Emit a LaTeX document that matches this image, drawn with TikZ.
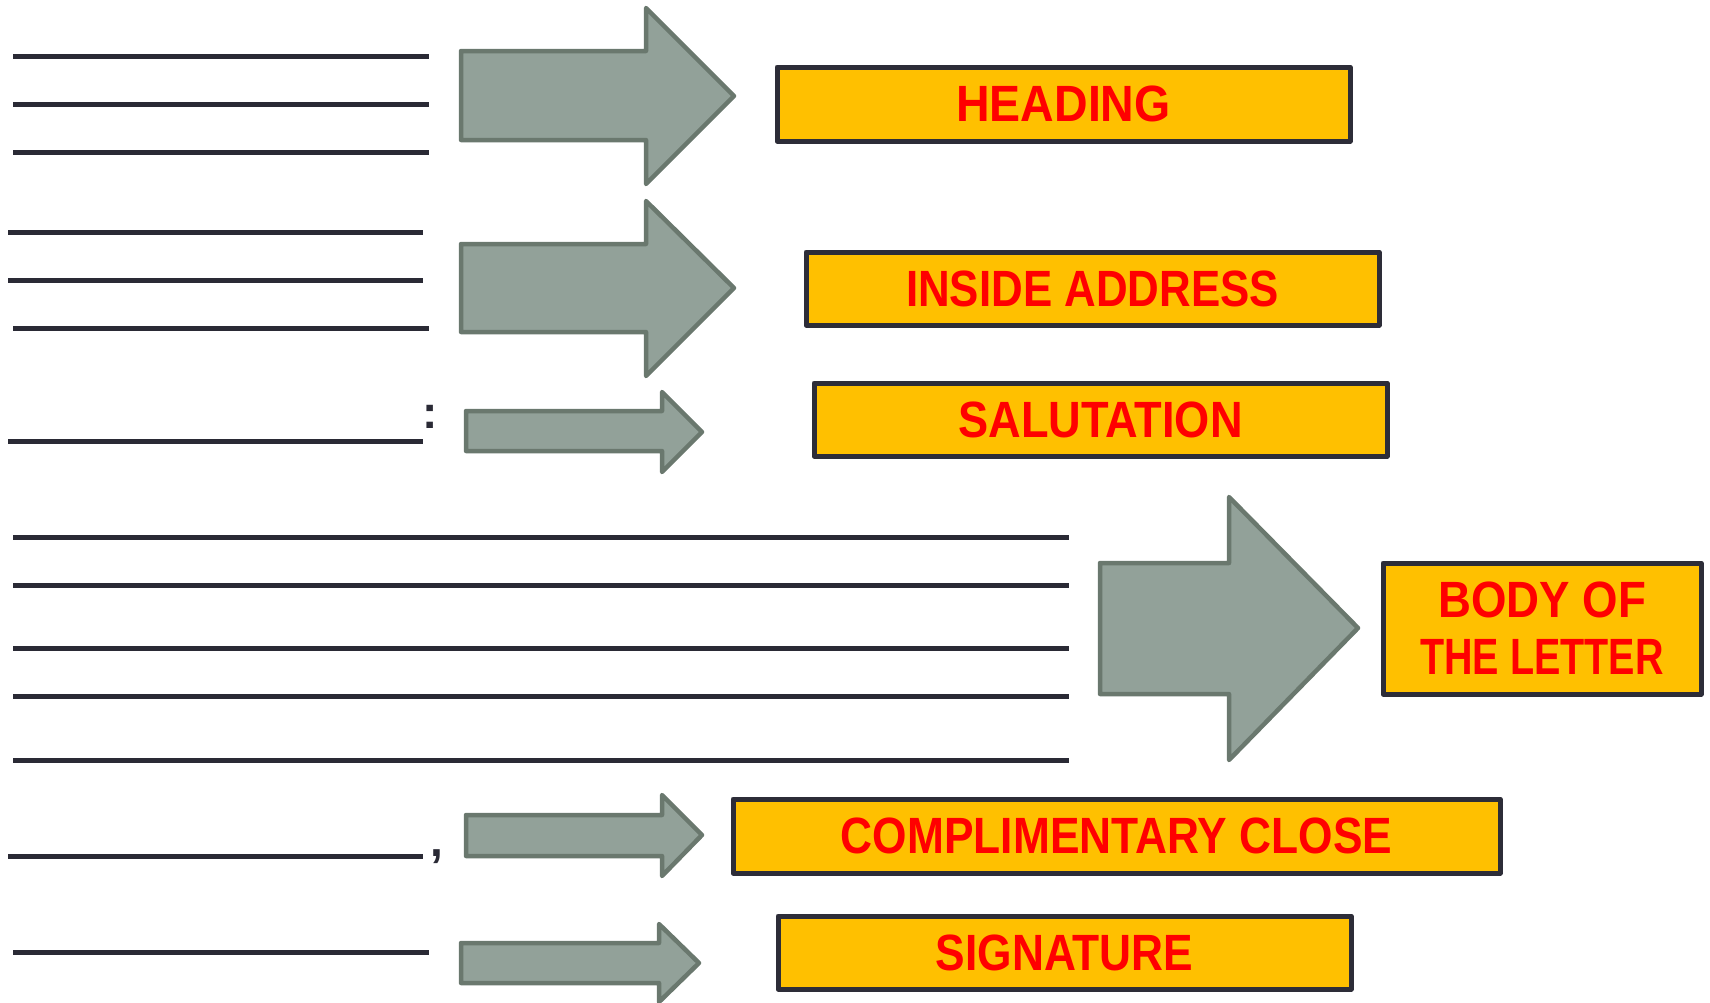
\documentclass[tikz,border=0pt]{standalone}
\usepackage{fontspec}
\setmainfont{Liberation Sans}
\newfontfamily\labelfont[FakeStretch=0.86]{Liberation Sans Bold}
\definecolor{boxfill}{HTML}{FFC000}
\definecolor{boxline}{HTML}{2D2D38}
\definecolor{arrowfill}{HTML}{92A199}
\definecolor{arrowline}{HTML}{6A786E}
\definecolor{rulecol}{HTML}{2A2A35}
\definecolor{labelred}{HTML}{FF0000}
\newcommand{\sx}[2]{\scalebox{#1}[1]{#2}}
\tikzset{
  partbox/.style={draw=boxline, fill=boxfill, line width=5pt, text=labelred,
    font=\labelfont\fontsize{51}{57}\selectfont, inner sep=0pt, align=center,
    line join=round},
  blockarrow/.style={draw=arrowline, fill=arrowfill, line width=4.5pt, line join=round},
  writeline/.style={draw=rulecol, line width=5pt},
  punct/.style={text=rulecol, font=\bfseries\fontsize{46}{50}\selectfont, inner sep=0pt, anchor=base}
}
\begin{document}
\begin{tikzpicture}[x=1pt,y=-1pt]
\useasboundingbox (0,0) rectangle (1710,1002);
% writing lines
\draw[writeline] (13,56) -- (429,56);
\draw[writeline] (13,104) -- (429,104);
\draw[writeline] (13,152) -- (429,152);
\draw[writeline] (8,232) -- (423,232);
\draw[writeline] (8,280) -- (423,280);
\draw[writeline] (13,328) -- (429,328);
\draw[writeline] (8,441) -- (423,441);
\node[punct] (colon) at (430,428) {:};
\draw[writeline] (13,537) -- (1069,537);
\draw[writeline] (13,585) -- (1069,585);
\draw[writeline] (13,648) -- (1069,648);
\draw[writeline] (13,696) -- (1069,696);
\draw[writeline] (13,760) -- (1069,760);
\draw[writeline] (8,856) -- (423,856);
\node[punct] (comma) at (437,856) {,};
\draw[writeline] (13,952) -- (429,952);
% block arrows
\draw[blockarrow] (461,51) -- (646,51) -- (646,8) -- (734,96) -- (646,184) -- (646,140) -- (461,140) -- cycle;
\draw[blockarrow] (461,244) -- (646,244) -- (646,201) -- (734,288) -- (646,376) -- (646,332) -- (461,332) -- cycle;
\draw[blockarrow] (466,411) -- (662,411) -- (662,392) -- (702,432) -- (662,472) -- (662,451) -- (466,451) -- cycle;
\draw[blockarrow] (1100,563) -- (1229,563) -- (1229,497) -- (1358,628) -- (1229,760) -- (1229,694) -- (1100,694) -- cycle;
\draw[blockarrow] (466,815) -- (662,815) -- (662,795) -- (702,835) -- (662,876) -- (662,856) -- (466,856) -- cycle;
\draw[blockarrow] (461,943) -- (659,943) -- (659,924) -- (699,963) -- (659,1002) -- (659,983) -- (461,983) -- cycle;
% labels
\node[partbox, minimum width=573pt, minimum height=74pt] (heading) at (1063.5,104) {\sx{1.06}{HEADING}};
\node[partbox, minimum width=573pt, minimum height=73pt] (inside) at (1092.5,288.5) {\sx{1.0}{INSIDE ADDRESS}};
\node[partbox, minimum width=573pt, minimum height=73pt] (salutation) at (1100.5,419.5) {\sx{1.03}{SALUTATION}};
\node[partbox, minimum width=318pt, minimum height=131pt] (body) at (1542,628.5) {\sx{1.04}{BODY OF}\\\sx{0.9}{THE LETTER}};
\node[partbox, minimum width=767pt, minimum height=74pt] (close) at (1116.5,836) {\sx{1.01}{COMPLIMENTARY CLOSE}};
\node[partbox, minimum width=573pt, minimum height=73pt] (signature) at (1064.5,952.5) {\sx{1.01}{SIGNATURE}};
\end{tikzpicture}
\end{document}
